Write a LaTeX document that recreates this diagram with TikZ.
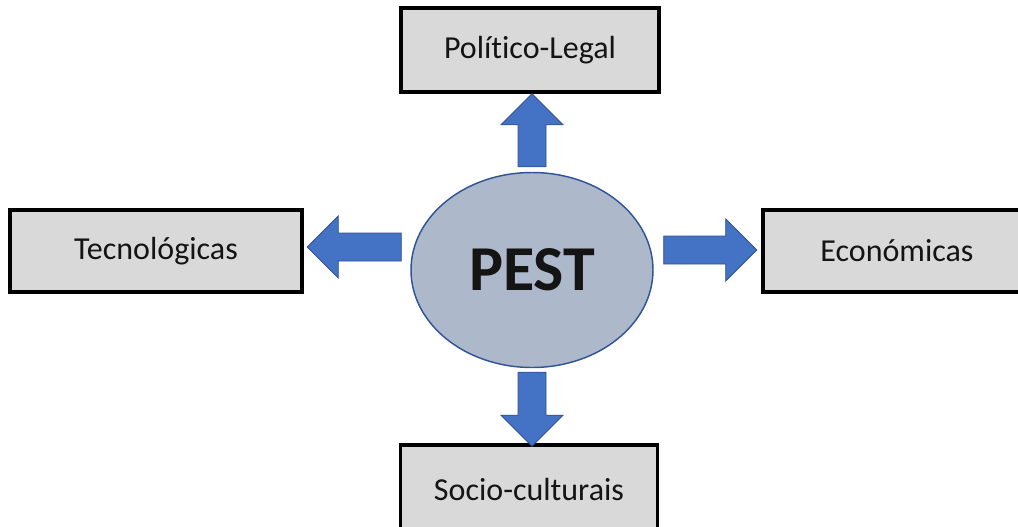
\documentclass[tikz,border=0pt]{standalone}
\usepackage{fontspec}
\setmainfont[Ligatures=NoCommon]{Carlito}
\usetikzlibrary{shapes.geometric}
\definecolor{boxgray}{HTML}{D9D9D9}
\definecolor{arrowblue}{HTML}{4472C4}
\definecolor{arrowedge}{HTML}{2F528F}
\definecolor{pestfill}{HTML}{ADB9CA}
\definecolor{pestedge}{HTML}{2F5597}
\definecolor{inktext}{HTML}{141414}
\tikzset{
  factor/.style={draw=black, line width=2.6pt, fill=boxgray, rectangle,
    inner sep=0pt, text=inktext, font=\fontsize{24}{28}\selectfont},
  core/.style={ellipse, draw=pestedge, line width=1.1pt, fill=pestfill,
    inner sep=0pt, minimum width=181.5pt, minimum height=146.25pt,
    text=inktext, font=\fontsize{48}{56}\selectfont\bfseries},
  arrowbody/.style={fill=arrowblue, draw=arrowedge, line width=0.6pt, line join=miter},
  pics/barrow/.style={code={
    \filldraw[arrowbody] (0,-14) -- (#1-31,-14) -- (#1-31,-31) -- (#1,0)
      -- (#1-31,31) -- (#1-31,14) -- (0,14) -- cycle;}}
}
\begin{document}
\begin{tikzpicture}[x=0.75pt, y=-0.75pt]
  \useasboundingbox (0,0) rectangle (1018,526);
  \clip (0,0) rectangle (1018,526);
  % central ellipse
  \node[core] (pest) at (532,270) {PEST};
  % the four factor boxes
  \node[factor, minimum width=193.5pt, minimum height=63pt] (pol) at (530,50) {Político-Legal};
  \node[factor, minimum width=219pt, minimum height=61.5pt] (tec) at (156,251) {Tecnológicas};
  \node[factor, minimum width=201pt, minimum height=61.5pt] (eco) at (897,251) {Económicas};
  \node[factor, minimum width=193pt, minimum height=66pt] (soc) at (529,489) {Socio-culturais};
  % block arrows from the ellipse towards each box
  \path (pest.north) ++(0,-5) pic[rotate=90] (toPol) {barrow=73};
  \path (pest.west) ++(-9,-23) pic[rotate=180] (toTec) {barrow=94};
  \path (pest.east) ++(10,-20) pic (toEco) {barrow=93};
  \path (pest.south) ++(0,4) pic[rotate=-90] (toSoc) {barrow=74};
\end{tikzpicture}
\end{document}
